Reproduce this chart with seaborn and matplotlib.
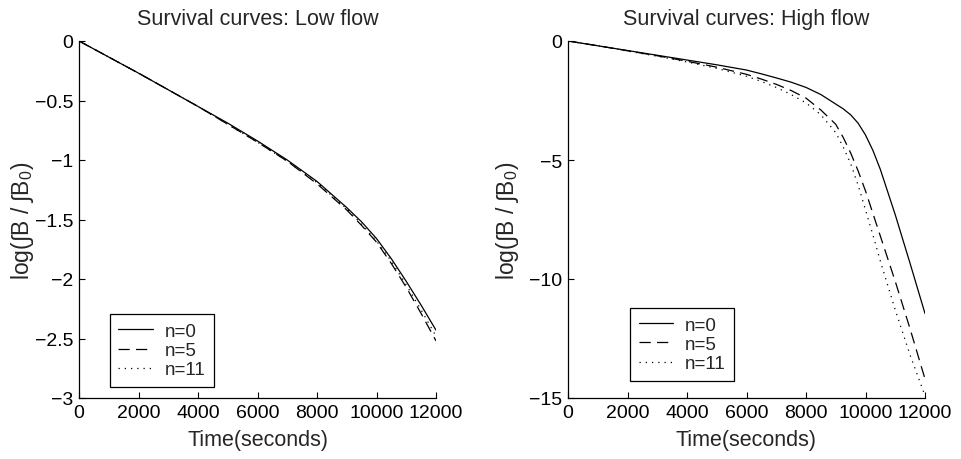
import matplotlib
matplotlib.use("Agg")
import matplotlib.pyplot as plt
import seaborn as sns
import pandas as pd

# ---- data ----
time_low = [0, 1000, 2000, 3000, 4000, 5000, 6000, 7000, 8000, 9000, 9500, 10000, 10500, 11000, 11500, 12000]
low_n0 = [0, -0.135, -0.27, -0.41, -0.55, -0.69, -0.84, -1.0, -1.18, -1.40, -1.52, -1.66, -1.83, -2.02, -2.22, -2.43]
low_n5 = [0, -0.135, -0.27, -0.41, -0.55, -0.70, -0.85, -1.01, -1.20, -1.42, -1.55, -1.69, -1.87, -2.07, -2.29, -2.52]
low_n11 = [0, -0.135, -0.27, -0.41, -0.55, -0.70, -0.85, -1.01, -1.19, -1.41, -1.54, -1.68, -1.85, -2.05, -2.26, -2.48]

time_high = [0, 1000, 2000, 3000, 4000, 5000, 6000, 6500, 7000, 7500, 8000, 8500, 9000, 9250, 9500,
             9750, 10000, 10250, 10500, 11000, 11500, 12000]
high_n0 = [0, -0.2, -0.4, -0.6, -0.8, -1.0, -1.22, -1.38, -1.55, -1.73, -1.95, -2.25, -2.65, -2.85, -3.1,
           -3.45, -3.95, -4.6, -5.4, -7.3, -9.35, -11.45]
high_n5 = [0, -0.2, -0.41, -0.62, -0.85, -1.1, -1.4, -1.6, -1.82, -2.08, -2.4, -2.9, -3.5, -4.05, -4.7,
           -5.45, -6.3, -7.25, -8.2, -10.1, -12.1, -14.2]
high_n11 = [0, -0.2, -0.42, -0.64, -0.88, -1.15, -1.48, -1.7, -1.95, -2.25, -2.6, -3.1, -3.85, -4.45, -5.15,
            -6.05, -7.1, -8.15, -9.25, -11.3, -13.2, -14.9]

labels = ["n=0", "n=5", "n=11"]
titles = ["Survival curves: Low flow", "Survival curves: High flow"]

sns.set_style("ticks")
plt.rcParams['font.family'] = ['Liberation Sans', 'DejaVu Sans']
plt.rcParams['mathtext.fontset'] = 'custom'
plt.rcParams['mathtext.rm'] = 'Liberation Sans'
plt.rcParams['mathtext.it'] = 'Liberation Sans'

fig = plt.figure(figsize=(9.61, 4.6), dpi=100)
ax1 = fig.add_axes([79/961, 1-399/460, 357/961, 357/460])
ax2 = fig.add_axes([568/961, 1-399/460, 357/961, 357/460])

styles = ['-', (0, (9, 5)), (0, (1, 4))]

def draw(ax, t, series, title, ylim, yticks, leg_anchor, ylab_x):
    for s, lab, ls in zip(series, labels, styles):
        df = pd.DataFrame({"t": t, "v": s})
        sns.lineplot(data=df, x="t", y="v", ax=ax, color='black', linewidth=0.9,
                     linestyle=ls, label=lab)
    ax.set_xlim(0, 12000)
    ax.set_ylim(*ylim)
    ax.set_xticks([0, 2000, 4000, 6000, 8000, 10000, 12000])
    ax.set_yticks(yticks)
    ax.set_yticklabels([('%g' % v).replace('-', '\u2212') for v in yticks])
    ax.set_title(title, fontsize=15.5, pad=12)
    ax.set_xlabel("Time(seconds)", fontsize=15.5, labelpad=6)
    ax.set_ylabel("log(\u222bB / \u222bB$_0$)", fontsize=16.5)
    ax.yaxis.set_label_coords(ylab_x, 0.5)
    ax.tick_params(direction='in', length=4, width=0.8, labelsize=14, pad=4, colors='black')
    for sp in ['top', 'right']:
        ax.spines[sp].set_visible(False)
    for sp in ['left', 'bottom']:
        ax.spines[sp].set_linewidth(0.9)
        ax.spines[sp].set_color('black')
    leg = ax.legend(loc='lower left', bbox_to_anchor=leg_anchor, fontsize=13.5,
                    frameon=True, fancybox=False, framealpha=1, edgecolor='black',
                    handlelength=1.85, handletextpad=0.6, borderpad=0.45, labelspacing=0.12,
                    borderaxespad=0)
    leg.get_frame().set_linewidth(0.9)

draw(ax1, time_low, [low_n0, low_n5, low_n11], titles[0], (-3, 0),
     [-3, -2.5, -2, -1.5, -1, -0.5, 0], (0.087, 0.031), -0.12)
draw(ax2, time_high, [high_n0, high_n5, high_n11], titles[1], (-15, 0),
     [-15, -10, -5, 0], (0.174, 0.048), -0.133)

fig.savefig("out.png", dpi=100)
